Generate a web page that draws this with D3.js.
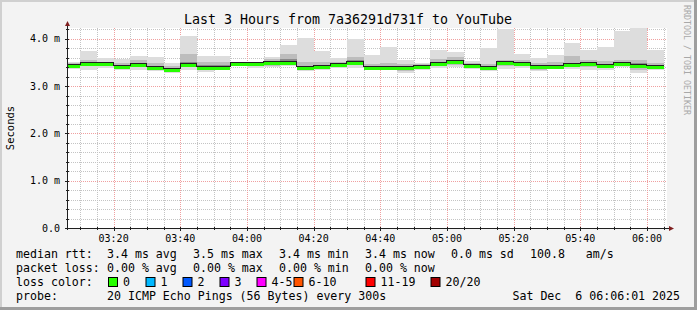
<!DOCTYPE html>
<html>
<head>
<meta charset="utf-8">
<script src="https://cdn.jsdelivr.net/npm/d3@7"></script>
<style>
  body { margin: 0; background: #f3f3f3; }
  text { font-family: "DejaVu Sans Mono", monospace; }
</style>
</head>
<body>
<div id="chart"></div>
<script>
var width = 697
var height = 310

// 5 minute bins, timestamp = end of bin (rrd style), values in ms
var binEnds = d3.range(36).map(function(i) {
    return new Date(Date.UTC(2025, 11, 6, 3, 10 + i * 5, 0));
});
var median  = [3.42,3.47,3.46,3.41,3.45,3.38,3.34,3.45,3.38,3.39,3.47,3.46,3.48,3.50,3.38,3.41,3.45,3.50,3.38,3.38,3.38,3.41,3.47,3.51,3.43,3.39,3.48,3.47,3.40,3.41,3.44,3.47,3.42,3.46,3.43,3.41];
var rttMax  = [3.52,3.75,3.60,3.57,3.64,3.61,3.48,4.06,3.64,3.64,3.50,3.50,3.61,3.87,4.01,3.74,3.59,4.00,3.66,3.83,3.55,3.50,3.77,3.72,3.53,3.80,4.20,3.68,3.59,3.66,3.92,3.77,3.83,4.16,4.23,3.77];
var rttMin  = [3.36,3.34,3.39,3.34,3.34,3.33,3.28,3.35,3.30,3.35,3.42,3.39,3.40,3.42,3.33,3.35,3.38,3.38,3.35,3.34,3.27,3.35,3.38,3.40,3.37,3.33,3.37,3.38,3.31,3.36,3.37,3.34,3.35,3.40,3.28,3.35];
var hiQ     = [3.48,3.55,3.52,3.50,3.55,3.50,3.42,3.67,3.52,3.52,3.49,3.49,3.57,3.69,3.52,3.52,3.52,3.62,3.47,3.48,3.47,3.46,3.58,3.62,3.49,3.47,3.56,3.55,3.50,3.51,3.64,3.56,3.53,3.56,3.55,3.48];
var loQ     = [3.38,3.42,3.42,3.37,3.40,3.35,3.30,3.40,3.34,3.36,3.44,3.42,3.43,3.45,3.35,3.37,3.41,3.44,3.36,3.36,3.31,3.37,3.42,3.45,3.39,3.36,3.42,3.42,3.35,3.38,3.40,3.40,3.38,3.43,3.34,3.38];
var innerLo = [3.40,3.45,3.44,3.39,3.43,3.37,3.32,3.43,3.36,3.38,3.46,3.44,3.46,3.48,3.37,3.39,3.43,3.47,3.37,3.37,3.35,3.39,3.45,3.48,3.41,3.38,3.45,3.45,3.38,3.40,3.42,3.44,3.40,3.44,3.40,3.39];
var innerHi = [3.45,3.50,3.49,3.45,3.49,3.43,3.37,3.52,3.44,3.45,3.48,3.48,3.52,3.58,3.43,3.45,3.48,3.55,3.42,3.42,3.42,3.43,3.51,3.56,3.45,3.42,3.51,3.50,3.44,3.45,3.50,3.51,3.46,3.50,3.48,3.44];

var yTicks = [0, 1, 2, 3, 4];
var yTickLabels = ["0.0", "1.0 m", "2.0 m", "3.0 m", "4.0 m"];

var lossLabels = ["0", "1", "2", "3", "4-5", "6-10", "11-19", "20/20"];
var lossColors = ["#26ff00", "#00b8ff", "#0059ff", "#7e00ff", "#ff00ff", "#ff5500", "#ff0000", "#a10000"];
var lossX = [108, 145.5, 182.5, 219.5, 256.5, 293.5, 365.5, 430.5];

var rttStats = ["3.4 ms avg", "3.5 ms max", "3.4 ms min", "3.4 ms now", "0.0 ms sd", "100.8   am/s"];
var lossStats = ["0.00 % avg", "0.00 % max", "0.00 % min", "0.00 % now"];
var statX = [107, 193, 279, 365, 451, 530];

var plot = { left: 67, right: 667, top: 28, bottom: 228 };

var x = d3.scaleUtc()
    .domain([new Date(Date.UTC(2025, 11, 6, 3, 6, 1)), new Date(Date.UTC(2025, 11, 6, 6, 6, 1))])
    .range([plot.left, plot.right]);

var y = d3.scaleLinear()
    .domain([0, 4.23])
    .range([plot.bottom, plot.top]);

var svg = d3.select("#chart")
    .append("svg")
    .attr("width", width)
    .attr("height", height);

// canvas and 3d frame
svg.append("rect").attr("width", width).attr("height", height).attr("fill", "#f3f3f3");
svg.append("rect").attr("x", 0).attr("y", 0).attr("width", width).attr("height", 2).attr("fill", "#d0d0d0");
svg.append("rect").attr("x", 0).attr("y", 0).attr("width", 2).attr("height", height).attr("fill", "#d0d0d0");
svg.append("rect").attr("x", 0).attr("y", height - 3).attr("width", width).attr("height", 3).attr("fill", "#9e9e9e");
svg.append("rect").attr("x", width - 3).attr("y", 0).attr("width", 3).attr("height", height).attr("fill", "#9e9e9e");

svg.append("rect")
    .attr("x", plot.left)
    .attr("y", plot.top)
    .attr("width", plot.right - plot.left)
    .attr("height", plot.bottom - plot.top)
    .attr("fill", "#ffffff");

// grid
var grid = svg.append("g").attr("shape-rendering", "crispEdges");

var yMinor = d3.range(0.2, 4.21, 0.2).filter(function(v) { return Math.abs(v - Math.round(v)) > 0.01; });
grid.selectAll(".ymin")
    .data(yMinor)
    .enter()
    .append("line")
    .attr("x1", plot.left).attr("x2", plot.right)
    .attr("y1", function(d) { return Math.round(y(d)) + 0.5; })
    .attr("y2", function(d) { return Math.round(y(d)) + 0.5; })
    .attr("stroke", "#c4c4c4")
    .attr("stroke-dasharray", "1,1");

var xMinor = d3.utcMinute.every(5).range(x.domain()[0], x.domain()[1])
    .filter(function(d) { return d.getUTCMinutes() % 20 != 0; });
grid.selectAll(".xmin")
    .data(xMinor)
    .enter()
    .append("line")
    .attr("x1", function(d) { return Math.round(x(d)) + 0.5; })
    .attr("x2", function(d) { return Math.round(x(d)) + 0.5; })
    .attr("y1", plot.top).attr("y2", plot.bottom)
    .attr("stroke", "#c4c4c4")
    .attr("stroke-dasharray", "1,1");

var xMajor = d3.utcMinute.every(20).range(x.domain()[0], x.domain()[1]);
grid.selectAll(".xmaj")
    .data(xMajor)
    .enter()
    .append("line")
    .attr("x1", function(d) { return Math.round(x(d)) + 0.5; })
    .attr("x2", function(d) { return Math.round(x(d)) + 0.5; })
    .attr("y1", plot.top).attr("y2", plot.bottom)
    .attr("stroke", "#f0a0a0")
    .attr("stroke-dasharray", "1,1");

grid.selectAll(".ymaj")
    .data(yTicks.slice(1))
    .enter()
    .append("line")
    .attr("x1", plot.left).attr("x2", plot.right)
    .attr("y1", function(d) { return Math.round(y(d)) + 0.5; })
    .attr("y2", function(d) { return Math.round(y(d)) + 0.5; })
    .attr("stroke", "#f0a0a0")
    .attr("stroke-dasharray", "1,1");

// smoke layers, drawn outer to inner
function binStart(i) {
    var s = d3.utcMinute.offset(binEnds[i], -5);
    return s < x.domain()[0] ? x.domain()[0] : s;
}

var layers = [
    { lo: rttMin, hi: rttMax, color: "#dddddd" },
    { lo: loQ, hi: hiQ, color: "#bdbdbd" },
    { lo: innerLo, hi: innerHi, color: "#8a8a8a" }
];

var smoke = svg.append("g").attr("shape-rendering", "crispEdges");
layers.forEach(function(layer) {
    smoke.append("g")
        .selectAll("rect")
        .data(binEnds)
        .enter()
        .append("rect")
        .attr("x", function(d, i) { return x(binStart(i)); })
        .attr("width", function(d, i) { return x(d) - x(binStart(i)); })
        .attr("y", function(d, i) { return y(layer.hi[i]); })
        .attr("height", function(d, i) { return y(layer.lo[i]) - y(layer.hi[i]); })
        .attr("fill", layer.color);
});

// median: dark step line plus loss coloured band
var stepData = binEnds.map(function(d, i) { return { t0: binStart(i), t1: d, v: median[i] }; });
var stepPts = [];
stepData.forEach(function(s) {
    stepPts.push([x(s.t0), y(s.v)]);
    stepPts.push([x(s.t1), y(s.v)]);
});

svg.append("g")
    .attr("shape-rendering", "crispEdges")
    .selectAll("rect")
    .data(stepData)
    .enter()
    .append("rect")
    .attr("x", function(d) { return x(d.t0); })
    .attr("width", function(d) { return x(d.t1) - x(d.t0); })
    .attr("y", function(d) { return y(d.v) - 1; })
    .attr("height", 3)
    .attr("fill", lossColors[0]);

svg.append("path")
    .attr("d", d3.line()(stepPts))
    .attr("fill", "none")
    .attr("stroke", "#202020")
    .attr("stroke-width", 1)
    .attr("shape-rendering", "crispEdges")
    .attr("transform", "translate(0,-1.5)");

// axes
var axes = svg.append("g").attr("shape-rendering", "crispEdges");
axes.append("line")
    .attr("x1", plot.left + 0.5).attr("x2", plot.left + 0.5)
    .attr("y1", plot.bottom + 2).attr("y2", plot.top - 3)
    .attr("stroke", "#1f1f1f");
axes.append("line")
    .attr("x1", plot.left - 2).attr("x2", plot.right + 3)
    .attr("y1", plot.bottom + 0.5).attr("y2", plot.bottom + 0.5)
    .attr("stroke", "#1f1f1f");

svg.append("path")
    .attr("d", "M" + (plot.left - 2) + "," + (plot.top - 2) + "L" + (plot.left + 3) + "," + (plot.top - 2) + "L" + (plot.left + 0.5) + "," + (plot.top - 7) + "Z")
    .attr("fill", "#7f1f1f");
svg.append("path")
    .attr("d", "M" + (plot.right + 2) + "," + (plot.bottom - 2) + "L" + (plot.right + 2) + "," + (plot.bottom + 3) + "L" + (plot.right + 7) + "," + (plot.bottom + 0.5) + "Z")
    .attr("fill", "#7f1f1f");

axes.selectAll(".xtick")
    .data(xMinor.concat(xMajor))
    .enter()
    .append("line")
    .attr("x1", function(d) { return Math.round(x(d)) + 0.5; })
    .attr("x2", function(d) { return Math.round(x(d)) + 0.5; })
    .attr("y1", plot.bottom - 1)
    .attr("y2", function(d) { return plot.bottom + (d.getUTCMinutes() % 20 == 0 ? 3 : 2); })
    .attr("stroke", "#1f1f1f");

axes.selectAll(".ytick")
    .data(yMinor.concat(yTicks))
    .enter()
    .append("line")
    .attr("x1", function(d) { return plot.left - (Math.abs(d - Math.round(d)) < 0.01 ? 2 : 1); })
    .attr("x2", plot.left + 2)
    .attr("y1", function(d) { return Math.round(y(d)) + 0.5; })
    .attr("y2", function(d) { return Math.round(y(d)) + 0.5; })
    .attr("stroke", "#1f1f1f");

svg.selectAll(".ylab")
    .data(yTicks)
    .enter()
    .append("text")
    .attr("x", 60)
    .attr("y", function(d) { return y(d) + 3.5; })
    .attr("text-anchor", "end")
    .attr("font-size", 10)
    .text(function(d, i) { return yTickLabels[i]; });

svg.selectAll(".xlab")
    .data(xMajor)
    .enter()
    .append("text")
    .attr("x", function(d) { return x(d); })
    .attr("y", 241.5)
    .attr("text-anchor", "middle")
    .attr("font-size", 10)
    .text(d3.utcFormat("%H:%M"));

svg.append("text")
    .attr("transform", "translate(14,128) rotate(-90)")
    .attr("text-anchor", "middle")
    .attr("font-size", 10.5)
    .text("Seconds");

svg.append("text")
    .attr("x", 348)
    .attr("y", 23.5)
    .attr("text-anchor", "middle")
    .attr("font-size", 13.3)
    .text("Last 3 Hours from 7a36291d731f to YouTube");

svg.append("text")
    .attr("transform", "translate(684,5) rotate(90)")
    .attr("font-size", 8.3)
    .attr("fill", "#a8a8a8")
    .text("RRDTOOL / TOBI OETIKER");

// legend
var legend = svg.append("g").attr("font-size", 11.6).attr("xml:space", "preserve");

legend.append("text").attr("x", 16).attr("y", 258).text("median rtt:");
legend.selectAll(".rtt")
    .data(rttStats)
    .enter()
    .append("text")
    .attr("x", function(d, i) { return statX[i]; })
    .attr("y", 258)
    .style("white-space", "pre")
    .text(function(d) { return d; });

legend.append("text").attr("x", 16).attr("y", 272).text("packet loss:");
legend.selectAll(".loss")
    .data(lossStats)
    .enter()
    .append("text")
    .attr("x", function(d, i) { return statX[i]; })
    .attr("y", 272)
    .text(function(d) { return d; });

legend.append("text").attr("x", 16).attr("y", 286).text("loss color:");
legend.selectAll(".swatch")
    .data(lossLabels)
    .enter()
    .append("rect")
    .attr("x", function(d, i) { return lossX[i] + 0.5; })
    .attr("y", 277.5)
    .attr("width", 9)
    .attr("height", 9)
    .attr("fill", function(d, i) { return lossColors[i]; })
    .attr("stroke", "#000000");
legend.selectAll(".swlab")
    .data(lossLabels)
    .enter()
    .append("text")
    .attr("x", function(d, i) { return lossX[i] + 15; })
    .attr("y", 286)
    .text(function(d) { return d; });

legend.append("text").attr("x", 16).attr("y", 300).text("probe:");
legend.append("text").attr("x", 107).attr("y", 300).text("20 ICMP Echo Pings (56 Bytes) every 300s");
legend.append("text").attr("x", 680).attr("y", 300).attr("text-anchor", "end").style("white-space", "pre").text("Sat Dec  6 06:06:01 2025");
</script>
</body>
</html>
